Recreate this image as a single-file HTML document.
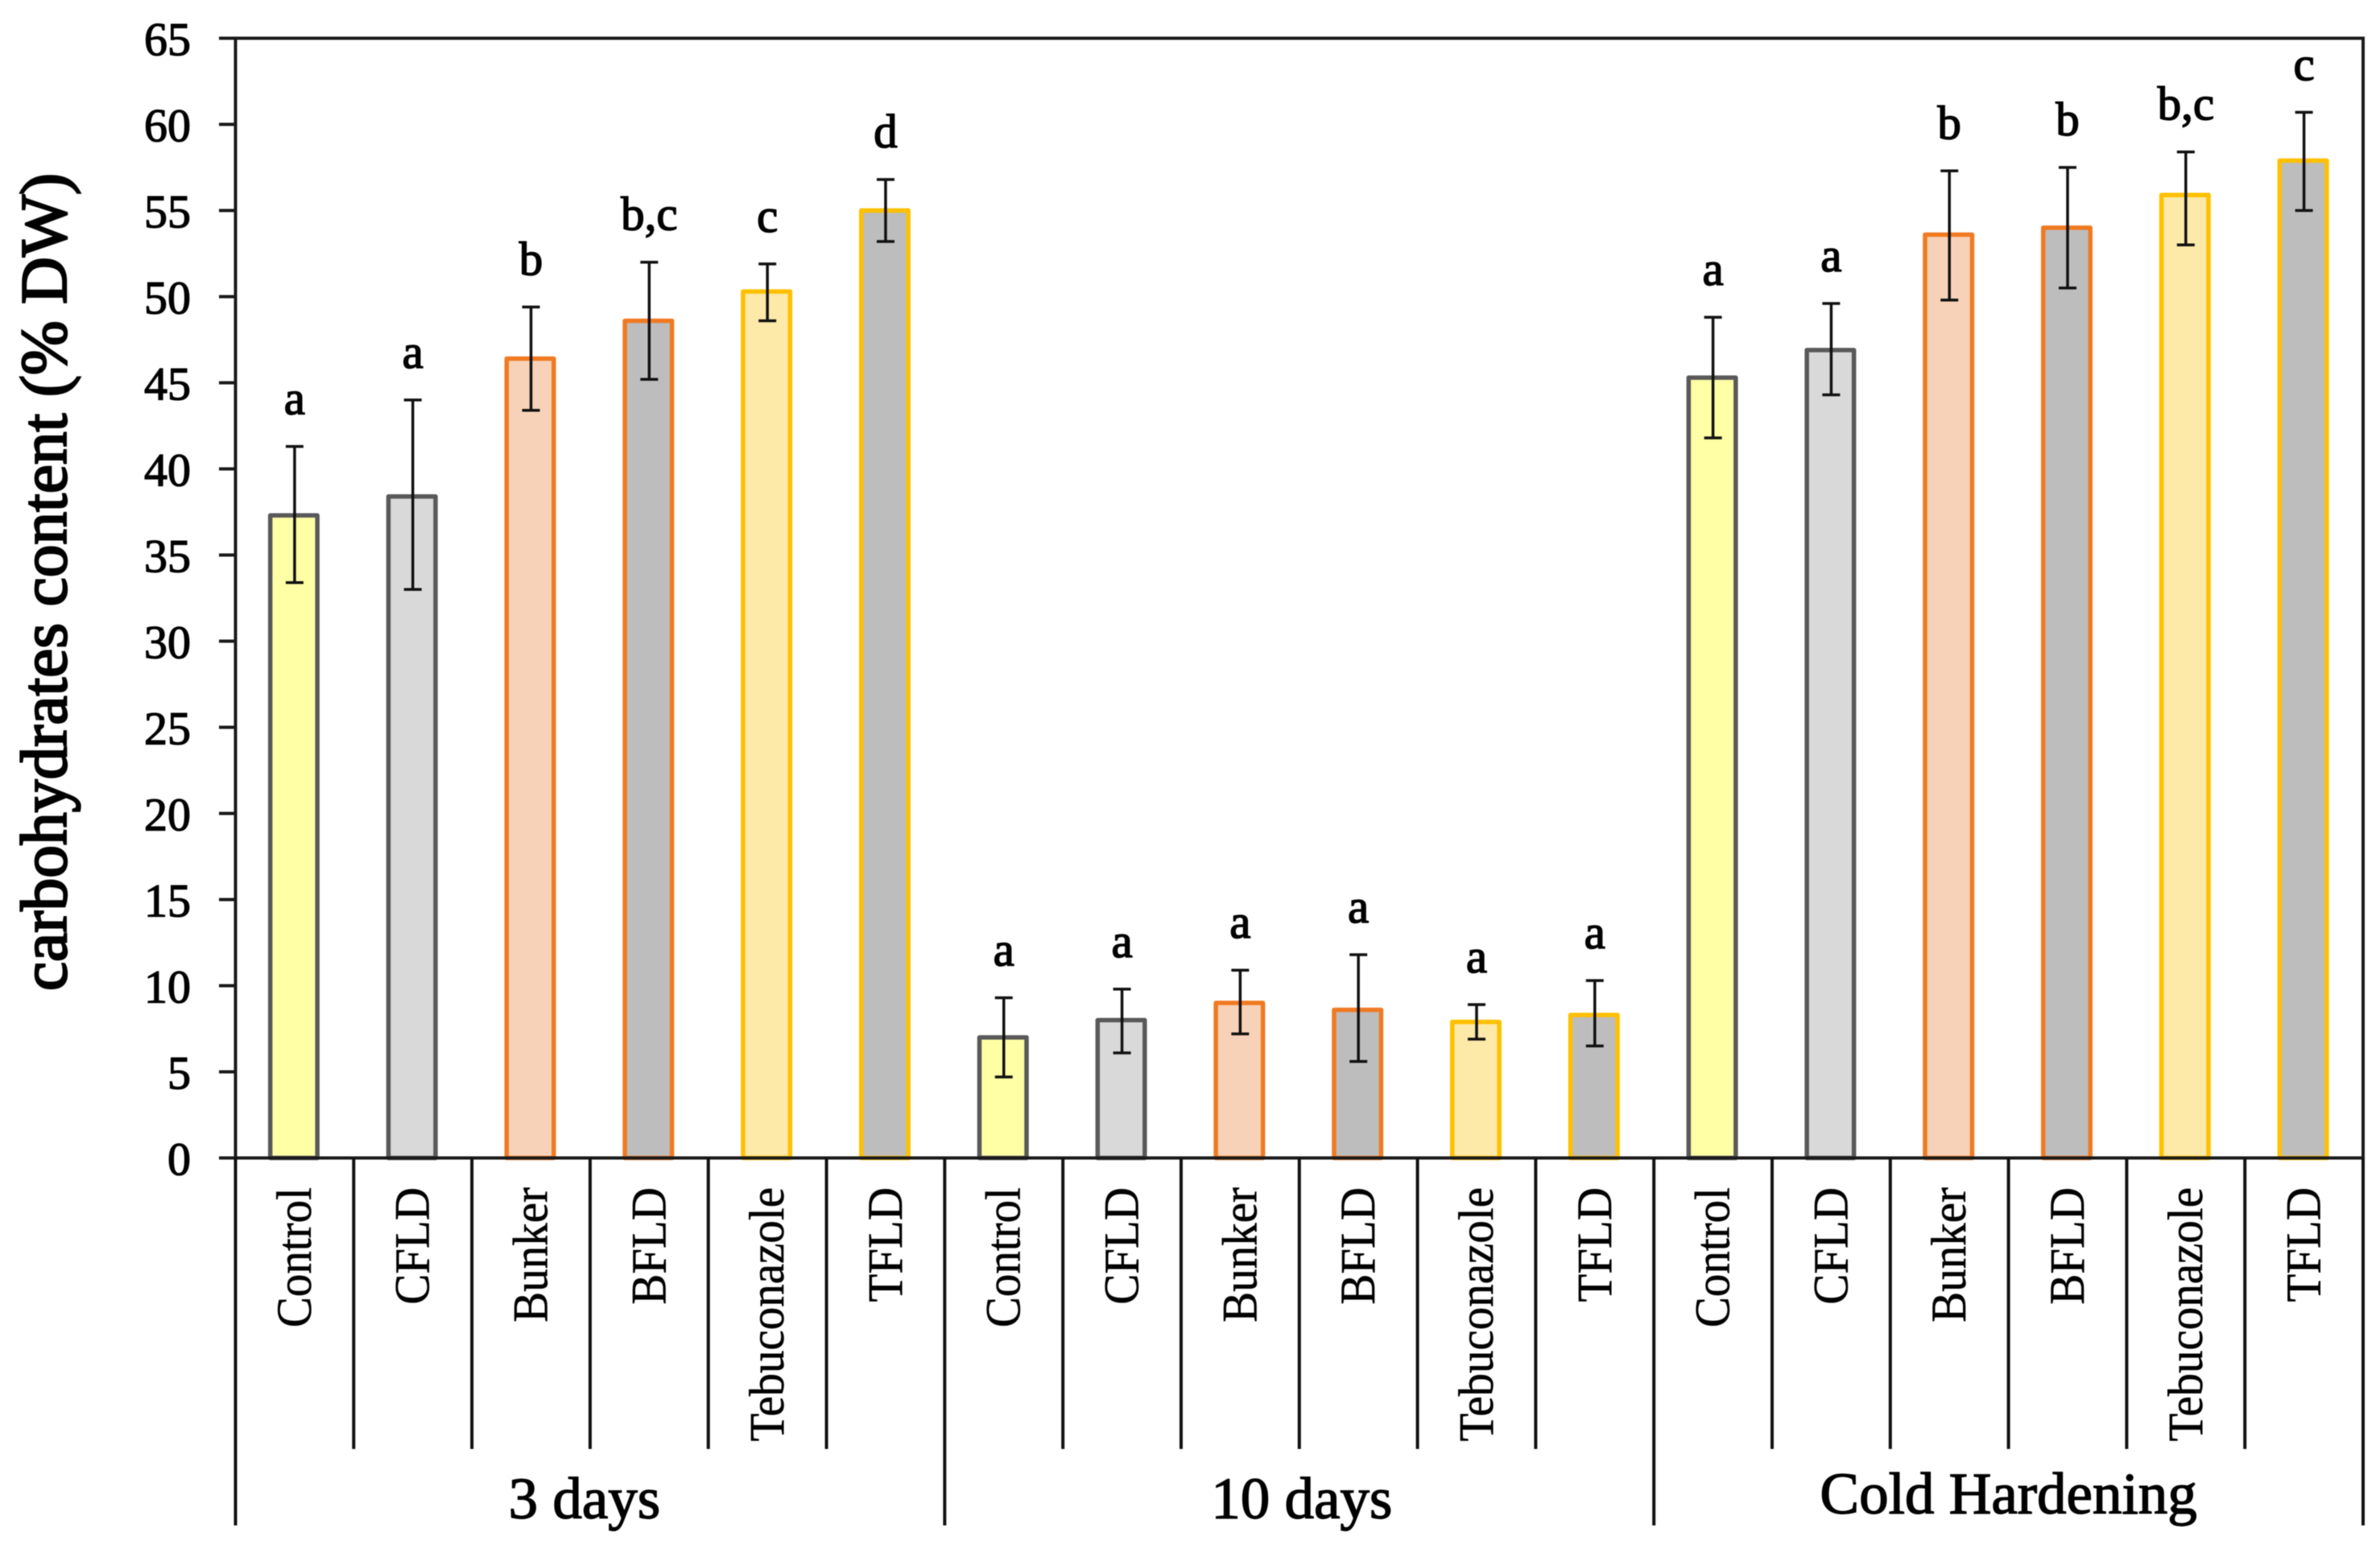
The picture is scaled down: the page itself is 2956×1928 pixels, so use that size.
<!DOCTYPE html>
<html lang="en">
<head>
<meta charset="utf-8">
<title>Carbohydrates content chart</title>
<style>
html,body{margin:0;padding:0;background:#fff;}
body{width:2956px;height:1928px;overflow:hidden;}
svg{display:block;filter:blur(0.6px);}
text{font-family:"Liberation Serif","Times New Roman",serif;fill:#000;stroke:#000;}
</style>
</head>
<body>
<svg id="chart" xmlns="http://www.w3.org/2000/svg" width="2956" height="1928" viewBox="0 0 2956 1928">
  <rect x="0" y="0" width="2956" height="1928" fill="#ffffff" stroke="none"/>
  <text transform="translate(82 723) rotate(-90)" text-anchor="middle" font-size="81.5" stroke-width="2.4">carbohydrates content (% DW)</text>
</svg>
<script>
const groups = ['3 days', '10 days', 'Cold Hardening'];
const treatments = ['Control', 'CFLD', 'Bunker', 'BFLD', 'Tebuconazole', 'TFLD'];
const yTicks = [0, 5, 10, 15, 20, 25, 30, 35, 40, 45, 50, 55, 60, 65];
const means = [37.3, 38.4, 46.4, 48.6, 50.3, 55, 7, 8, 9, 8.6, 7.9, 8.3, 45.3, 46.9, 53.6, 54, 55.9, 57.9];
const errLow = [33.4, 33, 43.4, 45.2, 48.6, 53.2, 4.7, 6.1, 7.2, 5.6, 6.9, 6.5, 41.8, 44.3, 49.8, 50.5, 53, 55];
const errHigh = [41.3, 44, 49.4, 52, 51.9, 56.8, 9.3, 9.8, 10.9, 11.8, 8.9, 10.3, 48.8, 49.6, 57.3, 57.5, 58.4, 60.7];
const sigLetters = ['a', 'a', 'b', 'b,c', 'c', 'd', 'a', 'a', 'a', 'a', 'a', 'a', 'a', 'a', 'b', 'b', 'b,c', 'c'];
const fills = ['#ffffa6', '#d9d9d9', '#f8d2b8', '#bdbdbd', '#fde9a8', '#bdbdbd'];
const strokes = ['#595959', '#595959', '#f07a22', '#f07a22', '#ffc000', '#ffc000'];

const svg = document.getElementById('chart');
const NS = 'http://www.w3.org/2000/svg';
const plotLeft = 292.5, plotRight = 2935, plotTop = 47.5, plotBottom = 1438.5;
const yMax = 65;
const catWidth = (plotRight - plotLeft) / (groups.length * treatments.length);
const barWidth = 58.5;
const y = v => plotBottom - v / yMax * (plotBottom - plotTop);
const xCenter = i => plotLeft + catWidth * (i + 0.5);
const xEdge = i => plotLeft + catWidth * i;

function make(tag, attrs, parent) {
  const el = document.createElementNS(NS, tag);
  for (const k in attrs) el.setAttribute(k, attrs[k]);
  (parent || svg).appendChild(el);
  return el;
}
function line(x1, y1, x2, y2, w, color) {
  return make('line', { x1, y1, x2, y2, stroke: color || '#111', 'stroke-width': w });
}

// bars
means.forEach((v, i) => {
  const t = i % treatments.length;
  const bar = make('rect', {
    x: xCenter(i) - 1 - barWidth / 2, y: y(v), width: barWidth, height: y(0) - y(v),
    fill: fills[t], stroke: strokes[t], 'stroke-width': 5.5, 'stroke-linejoin': 'round'
  });
  
  
});

// frame
const frame = make('rect', {
  x: plotLeft, y: plotTop, width: plotRight - plotLeft, height: plotBottom - plotTop,
  fill: 'none', stroke: '#1a1a1a', 'stroke-width': 4
});



// y ticks and labels
yTicks.forEach(v => {
  const tick = line(272, y(v), plotLeft, y(v), 4, '#1a1a1a');
  
  
  const label = make('text', { x: 237, y: y(v) + 21, 'text-anchor': 'end', 'font-size': 58, 'stroke-width': 1.3 });
  label.textContent = v;
  
  
});

// error bars
means.forEach((v, i) => {
  const cx = xCenter(i);
  const stem = line(cx, y(errLow[i]), cx, y(errHigh[i]), 3.5);
  
  
  const capTop = line(cx - 11, y(errHigh[i]), cx + 11, y(errHigh[i]), 3.5);
  
  
  const capLow = line(cx - 11, y(errLow[i]), cx + 11, y(errLow[i]), 3.5);
  
  
  const sig = make('text', { x: cx, y: y(errHigh[i]) - 40, 'text-anchor': 'middle', 'font-size': 59, 'stroke-width': 1.5 });
  sig.textContent = sigLetters[i];
  
  
});

// category separators and labels
means.forEach((v, i) => {
  const isGroupEdge = i % treatments.length === 0;
  const sep = line(xEdge(i), plotBottom, xEdge(i), isGroupEdge ? 1895 : 1800, 4);
  
  
  const lx = xCenter(i) + 20;
  const cat = make('text', { transform: 'translate(' + lx + ' 1475) rotate(-90) scale(1 1.07)', 'text-anchor': 'end', 'font-size': 57, 'stroke-width': 0.5 });
  cat.textContent = treatments[i % treatments.length];
  
  
});
const lastSep = line(plotRight, plotBottom, plotRight, 1895, 4);



// group labels
groups.forEach((g, i) => {
  const cx = xEdge(i * treatments.length) + catWidth * treatments.length / 2 + (i === 0 ? -7 : i === 1 ? 3 : 0);
  const label = make('text', { x: cx, y: i === 2 ? 1880 : 1886, 'text-anchor': 'middle', 'font-size': 73, 'stroke-width': 1.4 });
  label.textContent = g;
  
  
});
</script>
</body>
</html>
